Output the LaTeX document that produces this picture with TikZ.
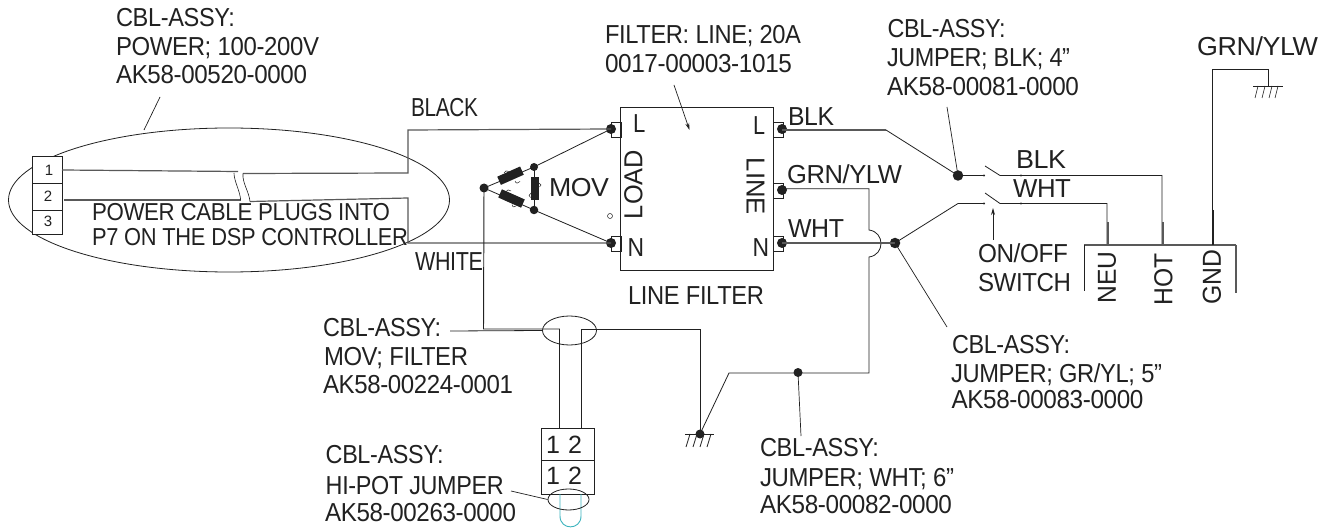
\documentclass[tikz,border=0pt]{standalone}
\usepackage{graphicx}
\usepackage{fontspec}
\usetikzlibrary{arrows.meta,shapes.geometric}
\setmainfont[LetterSpace=-1.5]{Liberation Sans}
\newfontfamily\plainf{Liberation Sans}
\definecolor{ink}{gray}{0.13}
\definecolor{loopc}{RGB}{60,180,190}
\tikzset{
  wire/.style={draw=ink,line width=0.95pt},
  thin wire/.style={draw=ink,line width=0.8pt},
  hair/.style={draw=ink,line width=0.7pt},
  grey wire/.style={draw=ink!75,line width=1.2pt},
  one/.style={inner sep=0pt,outer sep=0pt,text=ink,anchor=base west,font=\fontsize{26}{29}\selectfont},
  small caps text/.style={one,font=\fontsize{24.5}{25}\selectfont},
  vert/.style={inner sep=0pt,outer sep=0pt,text=ink,font=\plainf\fontsize{26}{29}\selectfont},
  dot/.style={circle,fill=ink,inner sep=0pt,minimum size=#1,draw=none},
  dot/.default=10pt,
  res/.style={rectangle,fill=ink,inner sep=0pt,minimum width=25pt,minimum height=9pt},
  cell/.style={rectangle,draw=ink,line width=1pt,inner sep=0pt,anchor=north west},
  pin/.style={text=ink,inner sep=0pt,font=\plainf\fontsize{25}{25}\selectfont},
  tinypin/.style={text=ink,inner sep=0pt,font=\plainf\fontsize{15}{15}\selectfont},
  arrowtip/.style={-{Stealth[length=7pt,width=4pt]}}
}
% name, x, baseline y, printed width, text
\newcommand\tl[5]{\node[one] (#1) at (#2,#3) {\resizebox{#4pt}{\height}{#5}};}
\newcommand\tlp[5]{\node[small caps text] (#1) at (#2,#3) {\resizebox{#4pt}{\height}{#5}};}
\newcommand\tv[5]{\node[vert,rotate=#5] (#1) at (#2) {\resizebox{#3pt}{\height}{#4}};}
\begin{document}
\begin{tikzpicture}[x=1pt,y=-1pt]
\useasboundingbox (0,0) rectangle (1328,529);
\fill[white] (0,0) rectangle (1328,529);

% ---- power cable
\node[draw=ink,line width=0.8pt,ellipse,minimum width=441pt,minimum height=144pt,inner sep=0pt] (cableEll) at (229,200) {};
\node[cell,fill=white,minimum width=30pt,minimum height=27pt] (c1) at (32,156.5) {};
\node[cell,fill=white,minimum width=30pt,minimum height=27pt] (c2) at (32,183.5) {};
\node[cell,fill=white,minimum width=30pt,minimum height=24pt] (c3) at (32,210.5) {};
\node[tinypin] (n1) at (49,170) {1};
\node[tinypin] (n2) at (48,196) {2};
\node[tinypin] (n3) at (48,221) {3};

% ---- filter
\node[cell,line width=0.9pt,minimum width=153pt,minimum height=163pt] (filter) at (620,107) {};
\node[cell,minimum width=9.5pt,minimum height=15pt] (tLL) at (611,122) {};
\node[cell,minimum width=9.5pt,minimum height=15pt] (tLN) at (611,236.5) {};
\node[cell,minimum width=9.5pt,minimum height=15pt] (tRL) at (773,122) {};
\node[cell,minimum width=9.5pt,minimum height=15pt] (tRG) at (773,183) {};
\node[cell,minimum width=9.5pt,minimum height=15pt] (tRN) at (773,236.5) {};
\node[dot] (dLL) at (611,129) {};
\node[dot] (dLN) at (611,243) {};
\node[dot] (dRL) at (782,129) {};
\node[dot] (dRG) at (782,190) {};
\node[dot] (dRN) at (782,243) {};
\node[draw=ink,circle,line width=0.5pt,inner sep=0pt,minimum size=5pt] (tiny) at (610,216) {};

% ---- MOV
\node[dot=9pt] (mA) at (484,188) {};
\node[dot=8pt] (mT) at (534,167) {};
\node[dot=8.5pt] (mB) at (534,210) {};
\draw[thin wire] (mA.center) -- (mT.center) -- (dLL.center);
\draw[thin wire] (mA.center) -- (mB.center) -- (dLN.center);
\draw[wire] (mT.center) -- (mB.center);
\node[res,rotate=24] (r1) at (510.5,175.7) {};
\node[res,rotate=-24] (r2) at (511.5,198.5) {};
\node[res,rotate=90,minimum width=23pt,minimum height=8.5pt] (r3) at (535,189) {};
\draw[draw=ink,line width=0.5pt] (504,173) .. controls (505,170.5) and (507,170.5) .. (509,171.5)
  (515,181) .. controls (516,184) and (518,183.5) .. (520,181.5)
  (506,191.5) .. controls (507,189.5) and (509,189.5) .. (511,191)
  (512,204.5) .. controls (512.5,207.5) and (514.5,207.5) .. (516,206)
  (539,183) .. controls (541.5,183.5) and (541.5,186.5) .. (539.5,187)
  (531,193) .. controls (528.5,194) and (528.5,197) .. (530.5,197.5);

% ---- wires from the cable
\coordinate (w1a) at (62,170);
\coordinate (w1b) at (238,171.5);
\coordinate (w1c) at (243,173.5);
\coordinate (w1d) at (408,173);
\coordinate (w1e) at (408,130);
\coordinate (w2a) at (64,200);
\coordinate (w2b) at (240.7,200);
\coordinate (w2c) at (250,201.5);
\coordinate (w2d) at (408,198);
\coordinate (w2e) at (408,243);
\coordinate (w1k) at (234,173);
\draw[grey wire] (w1a) -- (w1b);
\draw[grey wire] (w1c) -- (w1d) -- (w1e) -- (dLL.center);
\draw[grey wire] (w2a) -- (w2b);
\draw[grey wire] (w2c) -- (w2d) -- (w2e) -- (dLN.center);
\draw[thin wire,line width=0.6pt] (w1k) .. controls +(0,8) and +(-1,-10) .. (w2b);
\draw[thin wire,line width=0.6pt] (w1c) .. controls +(-1,9) and +(-1,-10) .. (w2c);

% ---- MOV cable to ground
\node[draw=ink,line width=0.8pt,ellipse,minimum width=54pt,minimum height=29pt,inner sep=0pt] (movEll) at (569.5,330.5) {};
\node[cell,minimum width=53pt,minimum height=32pt] (p1) at (541,428) {};
\node[cell,minimum width=53pt,minimum height=34pt] (p2) at (541,460) {};
\coordinate (v1) at (483.5,329);
\coordinate (v2) at (559.5,329);
\coordinate (v3) at (581,329);
\coordinate (v4) at (700,329);
\node[dot=9pt] (gnd1) at (700,434) {};
\draw[wire] (mA.center) -- (v1) -- (v2) -- (v2 |- p1.north);
\draw[wire] (v3 |- p1.north) -- (v3) -- (v4) -- (gnd1.center);
\coordinate (gl) at (685,434);
\coordinate (gr) at (713.5,434);
\draw[thin wire] (gl) -- (gr);
\foreach \x in {690,697,704,711} \draw[thin wire] (\x,434) -- (\x-4,447);

% ---- switch and jumpers
\node[dot=9pt] (dW) at (798,372.5) {};
\node[dot=10.5pt] (dBlk) at (958,175.5) {};
\node[dot=10.5pt] (dWht) at (895,243) {};
\coordinate (g1) at (869,188.7);
\coordinate (g2) at (869,230);
\coordinate (g3) at (869,257);
\coordinate (g4) at (869,373);
\coordinate (g5) at (729,373);
\draw[thin wire] (dRG.center |- g1) -- (g1) -- (g2) .. controls +(16,2) and +(16,-2) .. (g3) -- (g4) -- (g5) -- (gnd1.center);
\draw[grey wire] (dRN.center) -- (dWht.center);
\coordinate (b1) at (886,130);
\draw[grey wire] (dRL.center |- b1) -- (b1);
\draw[thin wire] (b1) -- (dBlk.center);
\coordinate (s1a) at (984,175.5);
\coordinate (s1b) at (985,166);
\coordinate (s1c) at (1000,175.5);
\coordinate (s1d) at (1162,175.5);
\coordinate (hot) at (1162,245);
\coordinate (s2z) at (958,203.5);
\coordinate (s2a) at (984,203.5);
\coordinate (s2b) at (985,193);
\coordinate (s2c) at (1000,203.5);
\coordinate (s2d) at (1107,203.5);
\coordinate (neu) at (1107,245);
\draw[thin wire] (dBlk.center) -- (s1a);
\draw[thin wire] (s1b) -- (s1c) -- (s1d) -- (hot);
\draw[thin wire] (dWht.center) -- (s2z) -- (s2a);
\draw[thin wire] (s2b) -- (s2c) -- (s2d) -- (neu);
\fill[ink] (984,175.5) circle (1.2) (1021,175.5) circle (1.2) (984,203.5) circle (1.2) (1021,203.5) circle (1.2);
\draw[grey wire,line width=2.2pt] (1108,222) -- (1108,245);
\draw[grey wire,line width=2.2pt] (1163,222) -- (1163,245);
\coordinate (barL) at (1084,245);
\coordinate (barR) at (1236,245);
\draw[grey wire,line width=2.5pt] (barL) -- (barR);
\draw[thin wire] (barL) -- (1084,291);
\draw[grey wire,line width=2pt] (barR) -- (1236,293);
\coordinate (e1) at (1212,245);
\coordinate (e2) at (1212,69);
\coordinate (e3) at (1268.5,69);
\coordinate (e4) at (1268.5,86);
\draw[thin wire] (e1) -- (e2) -- (e3) -- (e4);
\draw[thin wire,line width=0.6pt] (1213.5,210) -- (1213.5,245);
\draw[thin wire] (1253,86) -- (1283,86);
\foreach \x in {1258,1265,1272,1278} \draw[thin wire,line width=0.6pt] (\x,86) -- (\x-3,98);

% ---- HI-POT
\node[pin] (p11) at (553,445) {1};
\node[pin] (p12) at (575,445) {2};
\node[pin] (p21) at (553,476) {1};
\node[pin] (p22) at (575,476) {2};
\coordinate (la) at (560,494);
\coordinate (lb) at (581,494);
\draw[draw=loopc,line width=0.9pt] (la) -- (560,516) .. controls (560,530.5) and (581,530.5) .. (581,516) -- (lb);
\node[draw=ink,line width=0.8pt,ellipse,minimum width=41pt,minimum height=21pt,inner sep=0pt] (hiEll) at (568.5,499.5) {};

% ---- texts
\tl{tPowerA}{116}{26.7}{119}{CBL-ASSY:}
\tl{tPowerB}{116}{55.7}{203}{POWER; 100-200V}
\tl{tPowerC}{116}{83.5}{191}{AK58-00520-0000}
\tl{tFilterA}{605}{44}{196}{FILTER: LINE; 20A}
\tl{tFilterB}{605}{72.7}{187}{0017-00003-1015}
\tl{tBlkA}{887.5}{38}{118}{CBL-ASSY:}
\tl{tBlkB}{887}{67}{183}{JUMPER; BLK; 4"}
\tl{tBlkC}{887}{96}{192}{AK58-00081-0000}
\tl{tGrnA}{952}{353}{118}{CBL-ASSY:}
\tl{tGrnB}{951}{382.7}{211}{JUMPER; GR/YL; 5"}
\tl{tGrnC}{951.5}{408.5}{192}{AK58-00083-0000}
\tl{tMovA}{323}{336.7}{118}{CBL-ASSY:}
\tl{tMovB}{324}{365.7}{144}{MOV; FILTER}
\tl{tMovC}{323}{393}{190}{AK58-00224-0001}
\tl{tHiA}{325.7}{463.5}{118}{CBL-ASSY:}
\tl{tHiB}{325.7}{494}{178}{HI-POT JUMPER}
\tl{tHiC}{325}{521}{191}{AK58-00263-0000}
\tl{tWhtA}{760}{456.7}{119}{CBL-ASSY:}
\tl{tWhtB}{760}{486.7}{194}{JUMPER; WHT; 6"}
\tl{tWhtC}{760}{513}{192}{AK58-00082-0000}
\tlp{tPlugA}{92}{221}{298}{POWER CABLE PLUGS INTO}
\tlp{tPlugB}{92}{246}{316}{P7 ON THE DSP CONTROLLER}
\tl{tSwA}{978}{262.7}{90}{ON/OFF}
\tl{tSwB}{978}{291.7}{93}{SWITCH}
\tl{tGY}{1197}{55.7}{121}{GRN/YLW}
\tl{tBlack}{411}{117}{67}{BLACK}
\tl{tWhite}{415}{271}{68}{WHITE}
\tl{tB}{788}{125.7}{46}{BLK}
\tl{tG}{787}{184}{115}{GRN/YLW}
\tl{tW}{788}{237.7}{56}{WHT}
\tl{tB2}{1016}{169}{50}{BLK}
\tl{tW2}{1013}{198}{58}{WHT}
\tl{tLF}{628}{305}{136}{LINE FILTER}
\tl{tMV}{549}{197}{60}{MOV}
\tl{tL1}{633}{133}{12.3}{L}
\tl{tN1}{627.7}{256.7}{16.5}{N}
\tl{tL2}{753}{135}{12}{L}
\tl{tN2}{752.7}{256.7}{16.5}{N}
\tv{tLoad}{633.5,184.5}{69}{LOAD}{90}
\tv{tLine}{755.5,186.5}{57}{LINE}{-90}
\tv{tNeu}{1107,277.5}{52}{NEU}{90}
\tv{tHot}{1163.5,279}{52}{HOT}{90}
\tv{tGnd}{1212,277.5}{55}{GND}{90}

% ---- leaders
\coordinate (lp1) at (160,97);
\coordinate (lp2) at (144,130);
\draw[hair] (lp1) -- (lp2);
\coordinate (lf1) at (674,85);
\coordinate (lf2) at (689.5,130);
\draw[hair,arrowtip] (lf1) -- (lf2);
\coordinate (lb1) at (947,107);
\draw[hair] (lb1) -- (dBlk.center);
\coordinate (lg1) at (947,327);
\draw[hair] (dWht.center) -- (lg1);
\coordinate (lw1) at (801,436);
\draw[hair] (dW.center) -- (lw1);
\coordinate (sw1) at (993,240);
\coordinate (sw2) at (993,208);
\draw[thin wire,arrowtip] (sw1) -- (sw2);
\coordinate (lm1) at (450,331);
\draw[thin wire] (lm1) -- (movEll.west);
\coordinate (lh1) at (511,491);
\draw[hair] (lh1) -- (hiEll.west);
\end{tikzpicture}
\end{document}
